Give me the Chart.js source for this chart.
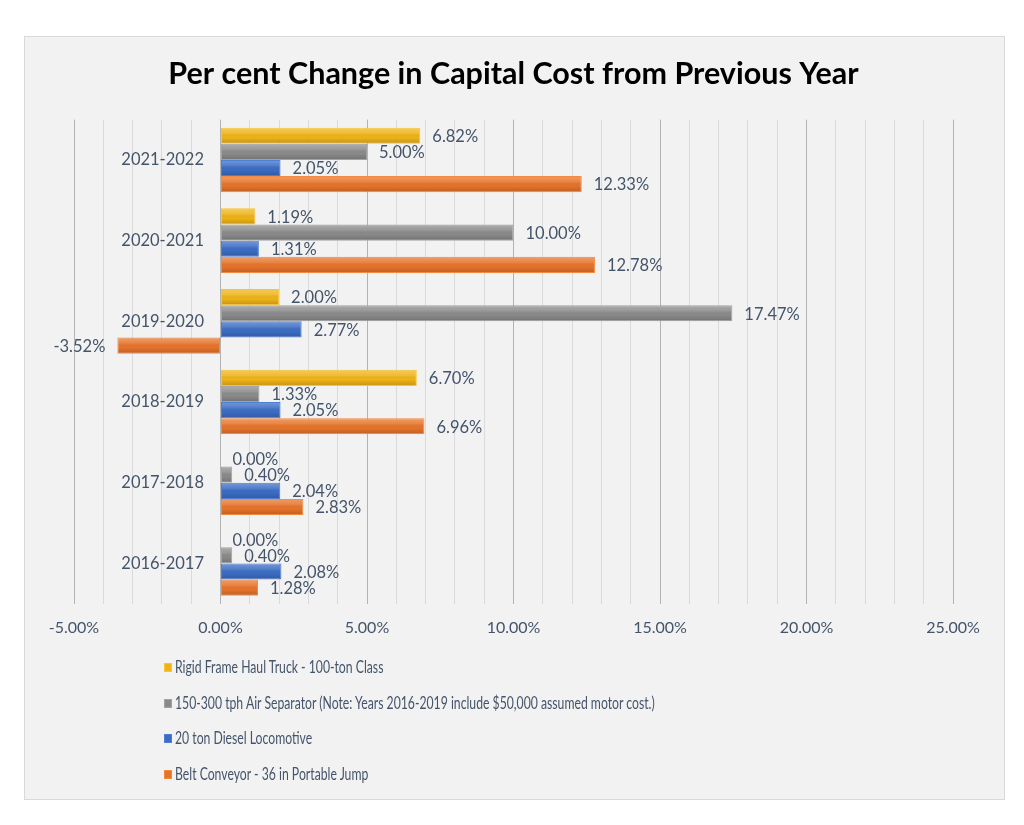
<!DOCTYPE html>
<html>
<head>
<meta charset="utf-8">
<script src="https://cdn.jsdelivr.net/npm/chart.js@4.4.1/dist/chart.umd.min.js"></script>
<style>
  html, body { margin: 0; padding: 0; background: #ffffff; }
  body { width: 1024px; height: 825px; position: relative; overflow: hidden; font-family: Lato, "Open Sans", sans-serif; }
  #panel { position: absolute; left: 25px; top: 37px; width: 979px; height: 762px; background: #f2f2f2; outline: 1px solid #d9d9d9; }
  #chart { position: absolute; left: 0; top: 0; }
  #legend { position: absolute; left: 139px; top: 619px; margin: 0; padding: 0; list-style: none; }
  #legend li { height: 35.5px; line-height: 22px; font-size: 16.5px; color: #44546a; white-space: nowrap; display: flex; align-items: flex-start; }
  #legend .box { display: inline-block; width: 8px; height: 9px; margin-right: 3px; margin-top: 7px; box-sizing: border-box; border: 1px solid; flex: none; }
  #legend .txt { display: inline-block; transform: scaleX(0.74); transform-origin: 0 50%; }
</style>
</head>
<body>
<div id="panel">
  <canvas id="chart" width="979" height="762"></canvas>
  <ul id="legend"></ul>
</div>
<script>
// ---- data ----
const categories = ['2021-2022', '2020-2021', '2019-2020', '2018-2019', '2017-2018', '2016-2017'];
const seriesNames = [
  'Rigid Frame Haul Truck - 100-ton Class',
  '150-300 tph Air Separator (Note: Years 2016-2019 include $50,000 assumed motor cost.)',
  '20 ton Diesel Locomotive',
  'Belt Conveyor - 36 in Portable Jump'
];
const haulTruck    = [6.82, 1.19, 2.00, 6.70, 0.00, 0.00];
const airSeparator = [5.00, 10.00, 17.47, 1.33, 0.40, 0.40];
const locomotive   = [2.05, 1.31, 2.77, 2.05, 2.04, 2.08];
const beltConveyor = [12.33, 12.78, -3.52, 6.96, 2.83, 1.28];
const xMin = -5, xMax = 25, xMinorStep = 1, xMajorStep = 5;

// ---- styles ----
const fills   = ['#eeb317', '#8a8a8a', '#3b6cc4', '#e6732a'];
const borders = ['#f7c533', '#a3a3a3', '#4d7fd4', '#f28a3f'];
const textColor = '#44546a';
const fontFamily = 'Lato, "Open Sans", sans-serif';

const seriesValues = [haulTruck, airSeparator, locomotive, beltConveyor];
const datasets = seriesValues.map((vals, i) => ({
  label: seriesNames[i],
  data: vals,
  backgroundColor: fills[i],
  borderColor: borders[i],
  borderWidth: 1,
  borderSkipped: false,
  categoryPercentage: 0.8,
  barPercentage: 1.0
}));

// shading overlay to imitate the gradient bars
const shadePlugin = {
  id: 'shade',
  afterDatasetDraw(chart, args) {
    const ctx = chart.ctx;
    const meta = args.meta;
    ctx.save();
    meta.data.forEach(el => {
      const p = el.getProps(['x', 'y', 'base', 'height'], true);
      const left = Math.min(p.x, p.base), w = Math.abs(p.x - p.base);
      if (w < 2) return;
      const top = p.y - p.height / 2;
      const g = ctx.createLinearGradient(0, top, 0, top + p.height);
      g.addColorStop(0, 'rgba(255,255,255,0.30)');
      g.addColorStop(0.35, 'rgba(255,255,255,0.12)');
      g.addColorStop(0.6, 'rgba(0,0,0,0.0)');
      g.addColorStop(1, 'rgba(0,0,0,0.18)');
      ctx.fillStyle = g;
      ctx.fillRect(left + 1, top + 1, w - 2, p.height - 2);
    });
    ctx.restore();
  }
};

// value labels
const labelPlugin = {
  id: 'valueLabels',
  afterDatasetsDraw(chart) {
    const ctx = chart.ctx;
    ctx.save();
    ctx.font = '16.5px ' + fontFamily;
    ctx.fillStyle = textColor;
    ctx.textBaseline = 'middle';
    chart.data.datasets.forEach((ds, di) => {
      const meta = chart.getDatasetMeta(di);
      meta.data.forEach((el, i) => {
        const v = ds.data[i];
        const p = el.getProps(['x', 'y'], true);
        const txt = v.toFixed(2) + '%';
        if (v < 0) { ctx.textAlign = 'right'; ctx.fillText(txt, p.x - 12, p.y + 1); }
        else { ctx.textAlign = 'left'; ctx.fillText(txt, p.x + 12, p.y + 1); }
      });
    });
    ctx.restore();
  }
};

const chart = new Chart(document.getElementById('chart'), {
  type: 'bar',
  data: { labels: categories, datasets },
  plugins: [shadePlugin, labelPlugin],
  options: {
    indexAxis: 'y',
    responsive: false,
    animation: false,
    devicePixelRatio: 1,
    layout: { padding: { left: 49, right: 51, top: 0, bottom: 148 } },
    plugins: {
      legend: { display: false },
      tooltip: { enabled: false },
      title: {
        display: true,
        text: 'Per cent Change in Capital Cost from Previous Year',
        color: '#000000',
        font: { family: fontFamily, size: 30.5, weight: 'bold' },
        padding: { top: 19, bottom: 27 }
      }
    },
    scales: {
      x: {
        type: 'linear',
        min: xMin, max: xMax,
        grid: {
          drawTicks: false,
          color: c => (c.tick && c.tick.value % xMajorStep === 0) ? '#b3b3b3' : '#dadada',
          lineWidth: 1
        },
        border: { display: false },
        ticks: {
          stepSize: xMinorStep,
          autoSkip: false,
          maxRotation: 0,
          padding: 14,
          color: textColor,
          font: { family: fontFamily, size: 16 },
          callback: v => (v % xMajorStep === 0) ? v.toFixed(2) + '%' : ''
        }
      },
      y: {
        type: 'category',
        position: { x: 0 },
        grid: { display: false, drawTicks: false },
        border: { display: false },
        ticks: {
          color: textColor,
          font: { family: fontFamily, size: 16.5 },
          // category labels sit left of the zero line with a gap
          callback: function (v) { return this.getLabelForValue(v) + '\u2002\u2002'; }
        }
      }
    }
  }
});

// legend (one entry per row, built from the chart datasets)
const legendEl = document.getElementById('legend');
chart.data.datasets.forEach(ds => {
  const li = document.createElement('li');
  const box = document.createElement('span');
  box.className = 'box';
  box.style.background = ds.backgroundColor;
  box.style.borderColor = ds.borderColor;
  const txt = document.createElement('span');
  txt.className = 'txt';
  txt.textContent = ds.label;
  li.appendChild(box);
  li.appendChild(txt);
  legendEl.appendChild(li);
});
</script>
</body>
</html>
